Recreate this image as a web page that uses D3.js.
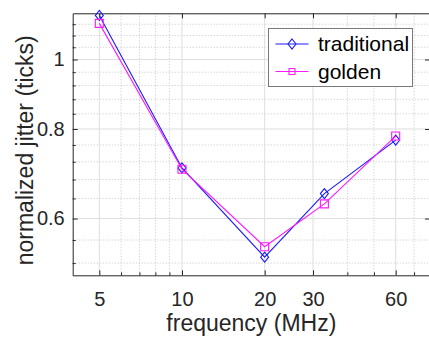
<!DOCTYPE html>
<html>
<head>
<meta charset="utf-8">
<script src="https://cdn.jsdelivr.net/npm/d3@7"></script>
<style>
  body { margin: 0; background: #fff; }
  svg { display: block; font-family: "Liberation Sans", Arial, sans-serif; }
</style>
</head>
<body>
<div id="chart"></div>
<script>
"use strict";
// data
const freq = [5, 10, 20, 33, 60];
const traditional = [1.152, 0.706, 0.530, 0.650, 0.772];
const golden = [1.123, 0.703, 0.548, 0.629, 0.782];

const xMajor = [5, 10, 20, 30, 60];
const xMinor = [6, 7, 8, 9, 40, 50, 70, 80];
const yMajor = [0.6, 0.8, 1];
const yMinor = [0.52, 0.56, 0.64, 0.68, 0.72, 0.76, 0.84, 0.88, 0.92, 0.96, 1.04, 1.08, 1.12];

const width = 429, height = 339;
const marginLeft = 72.7, marginRight = -1, marginTop = 13.3, marginBottom = 63.7;
const axisColor = "#262626";

const x = d3.scaleLog()
    .domain([4, 80])
    .range([marginLeft, width - marginRight]);
const y = d3.scaleLog()
    .domain([0.5, 1.16])
    .range([height - marginBottom, marginTop]);

const svg = d3.select("#chart").append("svg")
    .attr("width", width)
    .attr("height", height)
    .attr("viewBox", [0, 0, width, height]);

const x0 = x.range()[0], x1 = x.range()[1];
const y0 = y.range()[0], y1 = y.range()[1];

// grid
const grid = svg.append("g");
grid.selectAll(".xminor").data(xMinor).join("line")
    .attr("x1", d => x(d)).attr("x2", d => x(d))
    .attr("y1", y0).attr("y2", y1)
    .attr("stroke", "#c4c4c4").attr("stroke-dasharray", "1,2");
grid.selectAll(".yminor").data(yMinor).join("line")
    .attr("x1", x0).attr("x2", x1)
    .attr("y1", d => y(d)).attr("y2", d => y(d))
    .attr("stroke", "#c4c4c4").attr("stroke-dasharray", "1,2");
grid.selectAll(".xmajor").data(xMajor).join("line")
    .attr("x1", d => x(d)).attr("x2", d => x(d))
    .attr("y1", y0).attr("y2", y1)
    .attr("stroke", "#dedede");
grid.selectAll(".ymajor").data(yMajor).join("line")
    .attr("x1", x0).attr("x2", x1)
    .attr("y1", d => y(d)).attr("y2", d => y(d))
    .attr("stroke", "#dedede");

// axes (ticks inside, like the original)
const fmt = d => String(d);
svg.append("g")
    .attr("transform", `translate(0,${y0})`)
    .call(d3.axisBottom(x).tickValues(xMajor).tickFormat(fmt).tickSizeInner(-5).tickSizeOuter(0).tickPadding(17))
    .call(g => g.selectAll("text").attr("font-size", 20).attr("fill", axisColor))
    .call(g => g.selectAll("line").attr("stroke", axisColor))
    .call(g => g.select(".domain").attr("stroke", axisColor));
svg.append("g")
    .attr("transform", `translate(0,${y0})`)
    .call(d3.axisBottom(x).tickValues(xMinor).tickFormat("").tickSizeInner(-3).tickSizeOuter(0))
    .call(g => g.select(".domain").remove())
    .call(g => g.selectAll("line").attr("stroke", axisColor));
svg.append("g")
    .attr("transform", `translate(0,${y1})`)
    .call(d3.axisTop(x).tickValues(xMajor).tickFormat("").tickSizeInner(-5).tickSizeOuter(0))
    .call(g => g.selectAll("line").attr("stroke", axisColor))
    .call(g => g.select(".domain").attr("stroke", axisColor));
svg.append("g")
    .attr("transform", `translate(${x0},0)`)
    .call(d3.axisLeft(y).tickValues(yMajor).tickFormat(fmt).tickSizeInner(-5).tickSizeOuter(0).tickPadding(8))
    .call(g => g.selectAll("text").attr("font-size", 20).attr("fill", axisColor))
    .call(g => g.selectAll("line").attr("stroke", axisColor))
    .call(g => g.select(".domain").attr("stroke", axisColor));
svg.append("g")
    .attr("transform", `translate(${x0},0)`)
    .call(d3.axisLeft(y).tickValues(yMinor).tickFormat("").tickSizeInner(-3).tickSizeOuter(0))
    .call(g => g.select(".domain").remove())
    .call(g => g.selectAll("line").attr("stroke", axisColor));
svg.append("g")
    .attr("transform", `translate(${x1},0)`)
    .call(d3.axisRight(y).tickValues(yMajor).tickFormat("").tickSizeInner(-5).tickSizeOuter(0))
    .call(g => g.selectAll("line").attr("stroke", axisColor))
    .call(g => g.select(".domain").attr("stroke", axisColor));

// axis labels
svg.append("text")
    .attr("x", (x0 + 430) / 2)
    .attr("y", 331)
    .attr("text-anchor", "middle")
    .attr("font-size", 23)
    .attr("fill", axisColor)
    .text("frequency (MHz)");
svg.append("text")
    .attr("transform", `translate(33,${(y0 + y1) / 2 + 6}) rotate(-90)`)
    .attr("text-anchor", "middle")
    .attr("font-size", 23)
    .attr("fill", axisColor)
    .text("normalized jitter (ticks)");

// series
const series = [
    {name: "traditional", values: traditional, color: "#1a1aff", marker: "diamond"},
    {name: "golden", values: golden, color: "#ff19ff", marker: "square"}
];
const markerPath = {
    diamond: "M0,-5L4,0L0,5L-4,0Z",
    square: "M-4,-4H4V4H-4Z"
};
const line = d3.line().x(d => x(d[0])).y(d => y(d[1]));

series.forEach(s => {
    const pts = freq.map((f, i) => [f, s.values[i]]);
    svg.append("path")
        .datum(pts)
        .attr("fill", "none")
        .attr("stroke", s.color)
        .attr("stroke-width", 1.1)
        .attr("d", line);
    svg.append("g").selectAll("path")
        .data(pts)
        .join("path")
        .attr("transform", d => `translate(${x(d[0])},${y(d[1])})`)
        .attr("d", markerPath[s.marker])
        .attr("fill", "none")
        .attr("stroke", s.color)
        .attr("stroke-width", 1.1);
});

// legend
const legend = svg.append("g").attr("transform", "translate(268.5,28.5)");
legend.append("rect")
    .attr("width", 144)
    .attr("height", 58)
    .attr("fill", "#fff")
    .attr("stroke", "#7a7a7a");
const item = legend.selectAll(".item").data(series).join("g")
    .attr("transform", (d, i) => `translate(0,${15.5 + i * 27.5})`);
item.append("line")
    .attr("x1", 7).attr("x2", 40)
    .attr("stroke", d => d.color).attr("stroke-width", 1.1);
item.append("path")
    .attr("transform", "translate(23.5,0)")
    .attr("d", d => d.marker === "diamond" ? markerPath.diamond : "M-3,-3H3V3H-3Z")
    .attr("fill", "none")
    .attr("stroke", d => d.color).attr("stroke-width", 1.1);
item.append("text")
    .attr("x", 49.5)
    .attr("dy", "0.35em")
    .attr("font-size", 21)
    .attr("fill", "#000")
    .text(d => d.name);
</script>
</body>
</html>
